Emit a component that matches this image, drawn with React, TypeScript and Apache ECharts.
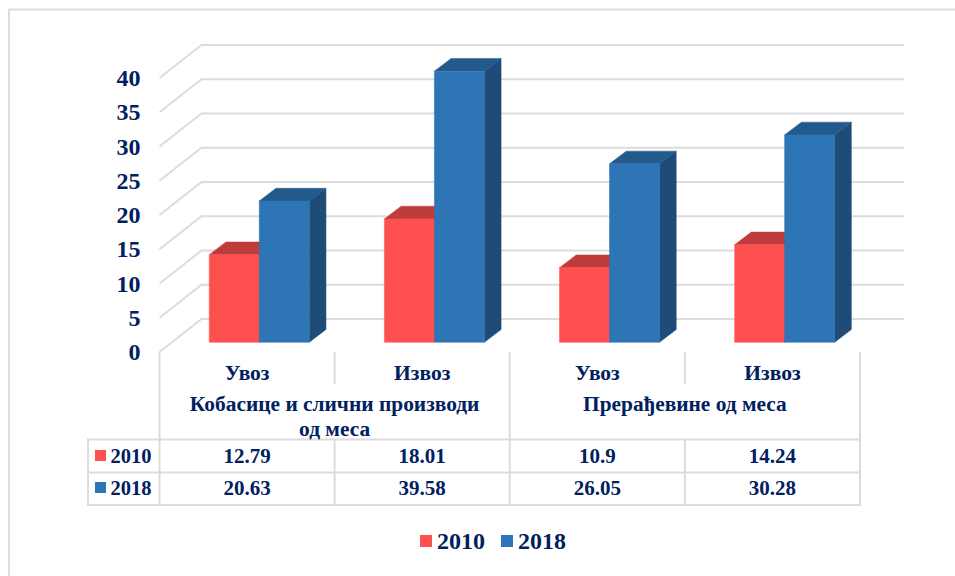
import React, { useEffect, useRef } from "react";
import * as echarts from "echarts";

const categories = ["Увоз", "Извоз", "Увоз", "Извоз"];
const groups = ["Кобасице и слични производи\nод меса", "Прерађевине од меса"];
const seriesNames = ["2010", "2018"];
const values2010 = [12.79, 18.01, 10.9, 14.24];
const values2018 = [20.63, 39.58, 26.05, 30.28];
const labels2010 = ["12.79", "18.01", "10.9", "14.24"];
const labels2018 = ["20.63", "39.58", "26.05", "30.28"];
const yTicks = [0, 5, 10, 15, 20, 25, 30, 35, 40];

const NAVY = "#002060";
const GRID = "#DCDCDC";
const FONT = '"Liberation Serif", "Times New Roman", serif';
const FACES = [
  { front: "#FF5050", top: "#BF3C3C", side: "#BF3C3C" },
  { front: "#2E75B6", top: "#225A8C", side: "#1F4B78" },
];

const LEFT = 159.5, RIGHT = 860, TOP = 78, BOTTOM = 352;
const FLOOR_DX = 42, FLOOR_DY = 33;
const BAR_W = 50, BAR_SHIFT_X = 12.2, BAR_SHIFT_Y = 9.7, BAR_DX = 16.7, BAR_DY = 12.7;
const ROW_TOP = 439.5, ROW_MID = 472.5, ROW_BOTTOM = 505, TABLE_LEFT = 88, HEAD_BOTTOM = 384;
const COL_W = (RIGHT - LEFT) / 4;

function gridRender(params: any, api: any) {
  const y = api.coord([0, api.value(0)])[1];
  const cs = params.coordSys;
  const x0 = cs.x;
  const x1 = cs.x + cs.width;
  return {
    type: "polyline",
    shape: { points: [[x0, y], [x0 + FLOOR_DX, y - FLOOR_DY], [x1 + FLOOR_DX + 2, y - FLOOR_DY]] },
    style: { stroke: GRID, lineWidth: 2, fill: "none" },
  };
}

function barRender(si: number) {
  return (params: any, api: any) => {
    const p = api.coord([api.value(0), api.value(1)]);
    const b = api.coord([api.value(0), 0]);
    const x0 = p[0] + BAR_SHIFT_X - (si === 0 ? BAR_W : 0);
    const x1 = x0 + BAR_W;
    const yt = p[1] - BAR_SHIFT_Y;
    const yb = b[1] - BAR_SHIFT_Y;
    const c = FACES[si];
    const poly = (pts: number[][], fill: string) => ({
      type: "polygon",
      shape: { points: pts },
      style: { fill, stroke: fill, lineWidth: 0.5 },
    });
    return {
      type: "group",
      children: [
        poly([[x1, yt], [x1 + BAR_DX, yt - BAR_DY], [x1 + BAR_DX, yb - BAR_DY], [x1, yb]], c.side),
        poly([[x0, yt], [x0 + BAR_DX, yt - BAR_DY], [x1 + BAR_DX, yt - BAR_DY], [x1, yt]], c.top),
        poly([[x0, yt], [x1, yt], [x1, yb], [x0, yb]], c.front),
      ],
    };
  };
}

function buildGraphic() {
  const els: any[] = [];
  const line = (x1: number, y1: number, x2: number, y2: number, width = 2) =>
    els.push({ type: "line", shape: { x1, y1, x2, y2 }, style: { stroke: GRID, lineWidth: width } });
  const text = (x: number, y: number, t: string, size: number, align = "center", lineHeight?: number) =>
    els.push({
      type: "text",
      x,
      y,
      style: {
        text: t,
        x: 0,
        y: 0,
        fill: NAVY,
        font: `bold ${size}px ${FONT}`,
        align,
        verticalAlign: lineHeight ? "top" : "middle",
        lineHeight,
      },
    });

  // outer frame (top and left only)
  line(8, 9.5, 955, 9.5);
  line(9, 9, 9, 576);

  // table rules
  [0, 2, 4].forEach((i) => line(LEFT + i * COL_W, BOTTOM, LEFT + i * COL_W, ROW_BOTTOM));
  [1, 3].forEach((i) => {
    line(LEFT + i * COL_W, BOTTOM, LEFT + i * COL_W, HEAD_BOTTOM);
    line(LEFT + i * COL_W, ROW_TOP, LEFT + i * COL_W, ROW_BOTTOM);
  });
  [ROW_TOP, ROW_MID, ROW_BOTTOM].forEach((y) => line(TABLE_LEFT - 1, y, RIGHT + 1, y));
  line(TABLE_LEFT, ROW_TOP, TABLE_LEFT, ROW_BOTTOM);

  // group headers
  text(LEFT + COL_W, 391, groups[0], 21.4, "center", 25);
  text(LEFT + 3 * COL_W, 391, groups[1], 21.4, "center", 25);

  // table rows
  [labels2010, labels2018].forEach((row, r) => {
    const y = r === 0 ? 456 : 488;
    els.push({
      type: "rect",
      shape: { x: 95, y: y - 6, width: 11, height: 11 },
      style: { fill: FACES[r].front },
    });
    text(110.5, y, seriesNames[r], 20.5, "left");
    row.forEach((v, i) => text(LEFT + (i + 0.5) * COL_W, y, v, 21));
  });
  return els;
}

export default function App() {
  const ref = useRef<HTMLDivElement>(null);
  useEffect(() => {
    const chart = echarts.init(ref.current!, undefined, { renderer: "svg", width: 955, height: 576 });
    chart.setOption({
      animation: false,
      backgroundColor: "#ffffff",
      textStyle: { fontFamily: FONT },
      grid: { left: LEFT, top: TOP, width: RIGHT - LEFT, height: BOTTOM - TOP, containLabel: false },
      xAxis: {
        type: "category",
        data: categories,
        axisLine: { show: false },
        axisTick: { show: false },
        splitLine: { show: false },
        axisLabel: { interval: 0, color: NAVY, fontWeight: "bold", fontSize: 21.5, fontFamily: FONT, margin: 10 },
      },
      yAxis: {
        type: "value",
        min: 0,
        max: 40,
        interval: 5,
        axisLine: { show: false },
        axisTick: { show: false },
        splitLine: { show: false },
        axisLabel: { color: NAVY, fontWeight: "bold", fontSize: 24, fontFamily: FONT, margin: 19 },
      },
      legend: {
        data: seriesNames,
        left: 420,
        top: 529,
        icon: "rect",
        itemWidth: 12,
        itemHeight: 12,
        itemGap: 16,
        padding: 0,
        selectedMode: false,
        textStyle: { color: NAVY, fontWeight: "bold", fontSize: 24, fontFamily: FONT },
      },
      graphic: buildGraphic(),
      series: [
        {
          type: "custom",
          name: "grid",
          silent: true,
          z: 1,
          renderItem: gridRender,
          encode: { y: 0 },
          data: yTicks.map((t) => [t]),
        },
        {
          type: "custom",
          name: seriesNames[0],
          z: 2,
          itemStyle: { color: FACES[0].front },
          renderItem: barRender(0),
          encode: { x: 0, y: 1 },
          data: values2010.map((v, i) => [i, v]),
        },
        {
          type: "custom",
          name: seriesNames[1],
          z: 3,
          itemStyle: { color: FACES[1].front },
          renderItem: barRender(1),
          encode: { x: 0, y: 1 },
          data: values2018.map((v, i) => [i, v]),
        },
      ],
    });
    return () => chart.dispose();
  }, []);
  return <div ref={ref} style={{ position: "fixed", left: 0, top: 0, width: 955, height: 576 }} />;
}
